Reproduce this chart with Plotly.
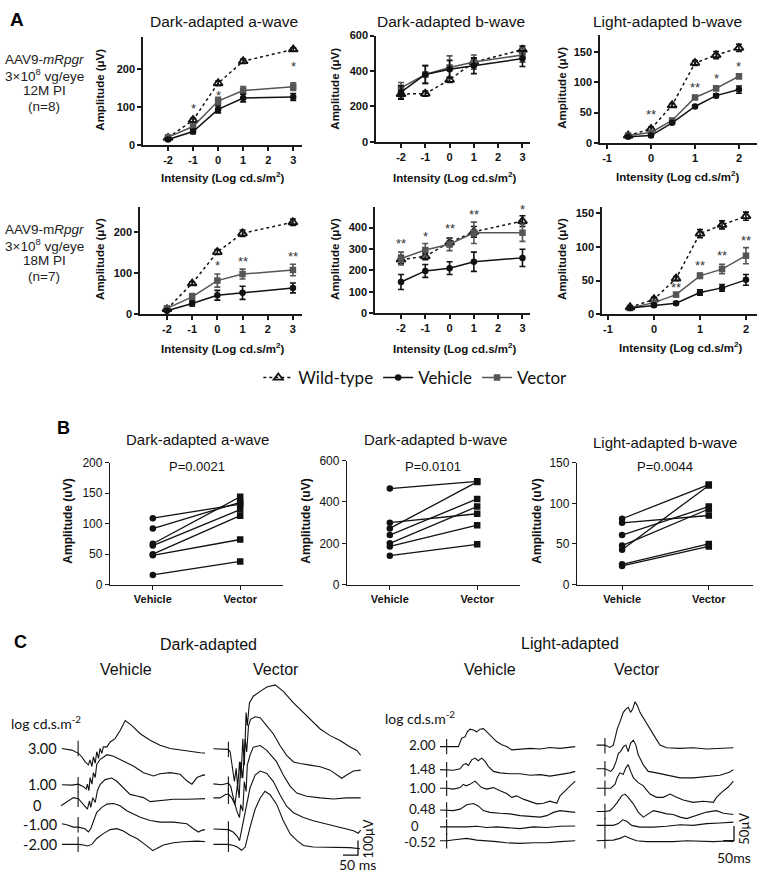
import plotly.graph_objects as go

W, H = 762, 879
FONT = "Liberation Sans, Arial, sans-serif"
NARROW = "Liberation Sans Narrow, Arial Narrow, Liberation Sans, sans-serif"
CAL = "Lato, Carlito, Calibri, sans-serif"
AX = "#1a1a1a"
VEC_C = "#555555"

# ---------------- Panel A data ----------------
DA_X = [-2, -1, 0, 1, 3]
LA_X = [-0.52, 0, 0.48, 1, 1.48, 2]
DA_TICKS = [-2, -1, 0, 1, 2, 3]
LA_TICKS = [-1, 0, 1, 2]

# 12M PI
A1_WT = [18, 65, 162, 220, 251];   A1_WT_E = [3, 5, 6, 6, 4]
A1_VEH = [14, 35, 93, 123, 126];   A1_VEH_E = [3, 6, 9, 10, 9]
A1_VEC = [20, 48, 115, 143, 153];  A1_VEC_E = [4, 8, 10, 10, 10]
A2_WT = [270, 272, 350, 450, 520]; A2_WT_E = [30, 15, 15, 20, 20]
A2_VEH = [280, 380, 410, 430, 470]; A2_VEH_E = [35, 50, 50, 45, 45]
A2_VEC = [305, 380, 420, 450, 490]; A2_VEC_E = [30, 50, 65, 40, 40]
A3_WT = [12, 23, 62, 132, 145, 157]; A3_WT_E = [2, 3, 3, 4, 6, 6]
A3_VEH = [10, 12, 33, 60, 78, 88];   A3_VEH_E = [2, 2, 2, 2, 3, 6]
A3_VEC = [12, 17, 37, 75, 90, 110];  A3_VEC_E = [2, 2, 3, 3, 4, 4]
# 18M PI
A4_WT = [12, 75, 152, 198, 225];   A4_WT_E = [3, 4, 6, 8, 8]
A4_VEH = [8, 26, 46, 52, 64];      A4_VEH_E = [3, 6, 12, 16, 12]
A4_VEC = [14, 42, 82, 98, 108];    A4_VEC_E = [4, 8, 16, 12, 14]
A5_WT = [250, 265, 330, 380, 430]; A5_WT_E = [20, 15, 20, 25, 25]
A5_VEH = [145, 197, 210, 240, 258]; A5_VEH_E = [35, 30, 30, 45, 40]
A5_VEC = [255, 295, 322, 375, 375]; A5_VEC_E = [30, 30, 30, 50, 40]
A6_WT = [10, 22, 53, 120, 133, 146]; A6_WT_E = [2, 3, 3, 6, 6, 6]
A6_VEH = [9, 13, 16, 32, 39, 51];    A6_VEH_E = [2, 2, 2, 4, 5, 8]
A6_VEC = [9, 17, 29, 57, 67, 87];    A6_VEC_E = [2, 2, 3, 4, 7, 12]

# significance stars (x, level in uV, text)
STARS_1 = [(-1, 95, "*"), (0, 131, "*"), (3, 205, "*")]
STARS_2 = []
STARS_3 = [(0, 47, "**"), (1, 92, "**"), (1.48, 107, "*"), (2, 127, "*")]
STARS_4 = [(0, 118, "*"), (1, 130, "**"), (3, 142, "**")]
STARS_5 = [(-2, 326, "**"), (-1, 358, "*"), (0, 395, "**"), (1, 462, "**"), (3, 485, "*")]
STARS_6 = [(0.48, 40, "**"), (1, 72, "**"), (1.48, 87, "**"), (2, 110, "**")]

# ---------------- Panel B data ----------------
B_CATS = ["Vehicle", "Vector"]
B1_VEH = [109, 92, 67, 64, 50, 48, 16]
B1_VEC = [132, 135, 144, 123, 113, 74, 38]
B2_VEH = [465, 300, 272, 240, 200, 185, 140]
B2_VEC = [500, 343, 497, 415, 378, 288, 195]
B3_VEH = [81, 76, 61, 48, 43, 25, 23]
B3_VEC = [123, 85, 96, 93, 122, 50, 47]
B_P = ["P=0.0021", "P=0.0101", "P=0.0044"]

# ---------------- Panel C data (time ms, amplitude uV) ----------------
DA_LABELS = ["3.00", "1.00", "0", "-1.00", "-2.00"]
LA_LABELS = ["2.00", "1.48", "1.00", "0.48", "0", "-0.52"]

DA_VEH_300 = [(-54,0),(-21,-11),(1,-33),(12,-56),(23,-89),(34,-111),(40,-78),(46,-122),(51,-56),(57,-100),(62,-22),(68,-67),(73,0),(79,-33),(84,11),(96,11),(107,44),(123,67),(140,122),(157,189),(179,155),(207,100),(240,56),(273,22),(307,0),(340,-11),(373,-22),(407,-29),(440,-33)]
DA_VEH_100 = [(-54,0),(-21,-2),(1,4),(18,-13),(27,-29),(31,4),(36,-40),(40,49),(46,4),(51,82),(57,49),(62,138),(73,171),(96,204),(118,193),(151,160),(184,127),(218,82),(251,60),(273,75),(307,82),(340,71),(362,27),(379,4),(396,49),(418,67),(429,64)]
DA_VEH_0 = [(-57,-44),(-38,-16),(-16,11),(1,4),(18,-33),(31,-67),(38,-11),(42,-56),(49,11),(57,-22),(64,56),(73,100),(90,133),(112,144),(129,122),(151,78),(173,33),(196,22),(218,11),(240,-16),(273,-11),(318,0),(362,0),(429,4)]
DA_VEH_M100 = [(-54,7),(-38,0),(-16,-16),(1,-16),(23,-27),(34,-49),(42,-27),(51,29),(62,84),(79,118),(96,140),(118,144),(140,129),(162,95),(184,73),(207,51),(240,29),(273,18),(318,18),(362,7),(384,-27),(401,-49),(412,-38),(423,-33)]
DA_VEH_M200 = [(-54,0),(-38,0),(-16,2),(1,0),(18,-4),(31,-11),(46,0),(62,40),(84,73),(107,100),(129,107),(151,91),(173,62),(196,40),(218,7),(234,-20),(249,-42),(262,-27),(284,-4),(318,11),(351,18),(396,22),(429,18)]

DA_VEC_300 = [(-50,4),(-28,4),(0,0),(6,-18),(13,-107),(20,-218),(26,-129),(31,-262),(37,-84),(42,-195),(48,71),(53,-107),(59,249),(63,160),(70,315),(83,360),(106,393),(128,422),(156,437),(183,393),(217,315),(250,249),(283,182),(306,138),(339,93),(372,60),(406,16),(428,-7),(441,-40)]
DA_VEC_100 = [(-50,2),(-22,-4),(0,7),(8,-16),(14,-71),(22,-138),(30,-4),(36,-93),(41,151),(48,40),(56,306),(61,218),(67,395),(74,440),(89,457),(106,451),(128,395),(150,340),(172,262),(194,195),(217,151),(239,140),(272,129),(306,118),(339,95),(361,67),(378,40),(394,62),(417,89),(441,95)]
DA_VEC_0 = [(-50,-11),(-28,-11),(-11,11),(0,16),(11,-11),(22,-56),(30,-111),(37,-144),(41,-56),(48,-100),(53,100),(59,33),(63,211),(72,278),(83,333),(106,344),(128,311),(161,233),(183,144),(206,67),(228,22),(261,0),(306,-11),(350,-18),(394,-11),(441,-11)]
DA_VEC_M100 = [(-50,0),(-22,0),(0,-4),(17,-22),(30,-51),(37,-78),(44,-11),(56,122),(72,278),(89,366),(106,393),(128,377),(150,322),(172,233),(194,155),(217,111),(250,78),(283,56),(328,33),(372,11),(417,-11),(433,-29),(441,-7)]
DA_VEC_M200 = [(-50,0),(-22,-2),(0,0),(17,-7),(30,-18),(44,-40),(56,-18),(72,115),(89,238),(106,315),(122,360),(139,337),(161,271),(183,160),(206,71),(228,27),(250,-7),(283,-18),(317,-18),(361,-18),(406,-22),(439,-29)]

LA_VEH_200 = [(-31,0),(0,0),(31,-2),(55,0),(70,28),(86,33),(97,50),(109,59),(125,56),(141,50),(156,59),(172,61),(188,50),(211,33),(234,17),(258,6),(281,0),(305,-11),(344,-8),(391,-6),(438,-8),(484,-3),(531,-6),(602,0)]
LA_VEH_148 = [(-31,0),(0,0),(31,-2),(63,3),(78,17),(91,20),(102,14),(117,33),(133,39),(148,30),(164,39),(180,28),(195,11),(219,-6),(250,-11),(297,-14),(344,-14),(391,-19),(438,-17),(484,-22),(531,-17),(578,-11),(602,-6)]
LA_VEH_100 = [(-31,0),(0,0),(31,-3),(63,2),(78,13),(91,8),(109,13),(133,24),(148,13),(164,2),(188,-3),(219,2),(250,-9),(281,-18),(305,-31),(328,-26),(359,-37),(391,-44),(422,-53),(453,-51),(484,-44),(516,-51),(531,-26),(563,-3),(602,24)]
LA_VEH_048 = [(-31,0),(0,0),(31,-2),(63,3),(94,18),(125,22),(148,14),(172,-2),(203,-8),(250,-11),(297,-13),(344,-19),(391,-22),(438,-24),(469,-19),(500,-8),(531,-2),(563,-4),(602,-8)]
LA_VEH_0 = [(-31,0),(0,0),(47,-2),(94,0),(141,2),(188,-2),(234,0),(281,-3),(344,-6),(406,0),(469,-2),(531,2),(602,3)]
LA_VEH_M052 = [(-31,0),(0,0),(47,4),(94,8),(141,2),(188,0),(234,-3),(281,-7),(344,-9),(406,-7),(469,-7),(531,-3),(602,0)]

LA_VEC_200 = [(-39,2),(0,2),(23,-6),(39,2),(47,24),(58,58),(70,80),(86,113),(98,124),(109,130),(120,113),(130,124),(141,149),(152,136),(164,113),(188,86),(211,58),(234,30),(258,2),(289,-7),(352,-9),(414,-7),(477,-11),(539,-9),(602,-7)]
LA_VEC_148 = [(-39,0),(0,0),(27,-9),(39,0),(52,24),(63,52),(73,58),(86,74),(98,80),(109,58),(120,86),(133,97),(145,80),(156,47),(180,13),(203,-9),(242,-14),(289,-22),(352,-31),(414,-31),(477,-26),(539,-22),(586,-11),(602,-3)]
LA_VEC_100 = [(-39,0),(0,0),(27,0),(47,13),(58,36),(70,52),(86,47),(98,69),(109,80),(120,58),(133,36),(156,19),(180,8),(211,-20),(242,-31),(273,-31),(305,-20),(336,-31),(367,-40),(414,-48),(461,-44),(508,-48),(523,-31),(547,-14),(578,4),(602,24)]
LA_VEC_048 = [(-39,0),(0,0),(23,3),(39,14),(58,31),(78,53),(94,59),(109,48),(133,26),(156,-2),(180,-19),(203,-8),(227,3),(258,-2),(289,-8),(320,-10),(352,-19),(383,-24),(430,-13),(477,-2),(523,3),(555,-6),(602,-10)]
LA_VEC_0 = [(-39,0),(0,0),(39,0),(63,6),(83,19),(102,14),(125,0),(164,-6),(227,-6),(289,-3),(352,2),(414,0),(477,6),(539,8),(602,11)]
LA_VEC_M052 = [(-39,0),(0,0),(39,2),(70,8),(94,16),(117,8),(148,0),(195,-3),(258,-3),(320,-3),(383,0),(445,-1),(508,-3),(570,-1),(602,-3)]

# stacking offsets (uV) for display
DA_VEH_OFF = [650, 404, 306, 133, 0]
DA_VEC_OFF = [644, 408, 326, 104, 0]
LA_VEH_OFF = [319, 241, 178, 104, 47, 0]
LA_VEC_OFF = [322, 244, 178, 99, 52, 0]
DA_SCALE = (50, 100)   # ms, uV
LA_SCALE = (50, 50)

# ---------------- figure ----------------
fig = go.Figure()
layout = {}
annotations = []


def names(i):
    s = "" if i == 1 else str(i)
    return "xaxis" + s, "yaxis" + s, "x" + s, "y" + s


def add_axes(i, xpx, ypx, xr, yr, visible=True, xt=None, xtt=None, yt=None, tfont=None, xtfont=None, lw=1.6):
    xn, yn, xref, yref = names(i)
    common = dict(showgrid=False, zeroline=False, fixedrange=True)
    if not visible:
        layout[xn] = dict(domain=[xpx[0] / W, xpx[1] / W], range=xr, anchor=yref, visible=False, **common)
        layout[yn] = dict(domain=[1 - ypx[1] / H, 1 - ypx[0] / H], range=yr, anchor=xref, visible=False, **common)
        return
    st = dict(showline=True, linecolor=AX, linewidth=lw, ticks="outside", ticklen=4,
              tickwidth=lw, tickcolor=AX)
    layout[xn] = dict(domain=[xpx[0] / W, xpx[1] / W], range=xr, anchor=yref,
                      tickvals=xt, ticktext=xtt, tickfont=xtfont or tfont, **st, **common)
    layout[yn] = dict(domain=[1 - ypx[1] / H, 1 - ypx[0] / H], range=yr, anchor=xref,
                      tickvals=yt, tickfont=tfont, **st, **common)


def txt(text, x, y, size, family=FONT, xanchor="center", yanchor="middle", bold=False,
        angle=0, color="#111", xref="paper", yref="paper"):
    d = dict(text=text, showarrow=False, xanchor=xanchor, yanchor=yanchor, textangle=angle,
             font=dict(family=family, size=size, color=color, weight="bold" if bold else "normal"))
    if xref == "paper":
        d.update(x=x / W, y=1 - y / H, xref="paper", yref="paper")
    else:
        d.update(x=x, y=y, xref=xref, yref=yref)
    annotations.append(d)


BOLDT = dict(family=FONT, size=11, color="#111", weight="bold")

# Panel A axes
A_AXES = [
    (1, [143, 302], [30, 140], [-3, 3.35], [0, 285], DA_TICKS, [0, 100, 200]),
    (2, [376, 530], [29, 137], [-3.03, 3.31], [0, 600], DA_TICKS, [0, 200, 400, 600]),
    (3, [600, 757], [28, 138], [-1.16, 2.41], [0, 179], LA_TICKS, [0, 50, 100, 150]),
    (4, [140, 302], [203, 312], [-3.07, 3.36], [0, 263], DA_TICKS, [0, 100, 200]),
    (5, [375, 530], [203, 311], [-3.07, 3.31], [0, 497], DA_TICKS, [0, 100, 200, 300, 400]),
    (6, [602, 757], [203, 312], [-1.13, 2.24], [0, 160], LA_TICKS, [0, 50, 100, 150]),
]
for i, xp, yp, xr, yr, xt, yt in A_AXES:
    add_axes(i, xp, yp, xr, yr, xt=xt, xtt=[str(v) for v in xt], yt=yt, tfont=BOLDT)

A_SERIES = [
    (1, DA_X, A1_WT, A1_WT_E, A1_VEH, A1_VEH_E, A1_VEC, A1_VEC_E, STARS_1),
    (2, DA_X, A2_WT, A2_WT_E, A2_VEH, A2_VEH_E, A2_VEC, A2_VEC_E, STARS_2),
    (3, LA_X, A3_WT, A3_WT_E, A3_VEH, A3_VEH_E, A3_VEC, A3_VEC_E, STARS_3),
    (4, DA_X, A4_WT, A4_WT_E, A4_VEH, A4_VEH_E, A4_VEC, A4_VEC_E, STARS_4),
    (5, DA_X, A5_WT, A5_WT_E, A5_VEH, A5_VEH_E, A5_VEC, A5_VEC_E, STARS_5),
    (6, LA_X, A6_WT, A6_WT_E, A6_VEH, A6_VEH_E, A6_VEC, A6_VEC_E, STARS_6),
]
for i, xs, wt, wte, veh, vehe, vec, vece, stars in A_SERIES:
    _, _, xr, yr = names(i)
    first = i == 1
    fig.add_trace(go.Scatter(x=xs, y=wt, xaxis=xr, yaxis=yr, name="Wild-type", mode="lines+markers",
                             showlegend=first, legendrank=1,
                             line=dict(color="#111", width=1.5, dash="3px,3px"),
                             marker=dict(symbol="triangle-up-open", size=8, color="#111", line=dict(width=1.8)),
                             error_y=dict(type="data", array=wte, width=3, thickness=1.6, color="#111")))
    fig.add_trace(go.Scatter(x=xs, y=vec, xaxis=xr, yaxis=yr, name="Vector", mode="lines+markers",
                             showlegend=first, legendrank=3,
                             line=dict(color=VEC_C, width=1.5),
                             marker=dict(symbol="square", size=6.5, color=VEC_C),
                             error_y=dict(type="data", array=vece, width=3, thickness=1.6, color=VEC_C)))
    fig.add_trace(go.Scatter(x=xs, y=veh, xaxis=xr, yaxis=yr, name="Vehicle", mode="lines+markers",
                             showlegend=first, legendrank=2,
                             line=dict(color="#111", width=1.5),
                             marker=dict(symbol="circle", size=6.5, color="#111"),
                             error_y=dict(type="data", array=vehe, width=3, thickness=1.6, color="#111")))
    for sx, sy, st in stars:
        txt(st, sx, sy, 13, color="#333", xref=xr, yref=yr)

# Panel A text
txt("A", 8, 13, 19, bold=True, xanchor="left", color="#000")
for cx, t in [(224, "Dark-adapted a-wave"), (451, "Dark-adapted b-wave"), (667, "Light-adapted b-wave")]:
    txt(t, cx, 15, 15.5, color="#111")
for cx, cy in [(100, 84), (335, 83), (562, 82), (100, 256), (335, 256), (562, 256)]:
    txt("Amplitude (μV)", cx, cy, 11.5, bold=True, angle=-90)
for cx, cy in [(223, 173), (455, 173), (678, 172), (223, 347), (455, 347), (681, 345)]:
    txt("Intensity (Log cd.s/m<sup>2</sup>)", cx, cy, 11.5, bold=True)
ROW1 = ["AAV9-<i>mRpgr</i>", "3×10<sup>8</sup> vg/eye", "12M PI", "(n=8)"]
ROW2 = ["AAV9-m<i>Rpgr</i>", "3×10<sup>8</sup> vg/eye", "18M PI", "(n=7)"]
for k, t in enumerate(ROW1):
    txt(t, 44, 53 + 16 * k, 13.5, color="#222")
for k, t in enumerate(ROW2):
    txt(t, 44, 226 + 16 * k, 13.5, color="#222")

# Panel B
NT = dict(family=NARROW, size=12, color="#111")
B_AXES = [
    (7, [110, 283], [463, 587], [-0.49, 1.49], [0, 200], [0, 50, 100, 150, 200], B1_VEH, B1_VEC),
    (8, [347, 520], [461, 587], [-0.49, 1.49], [0, 600], [0, 200, 400, 600], B2_VEH, B2_VEC),
    (9, [577, 753], [463, 587], [-0.52, 1.51], [0, 150], [0, 50, 100, 150], B3_VEH, B3_VEC),
]
for i, xp, yp, xr_, yr_, yt, veh, vec in B_AXES:
    add_axes(i, xp, yp, xr_, yr_, xt=[0, 1], xtt=B_CATS, yt=yt, tfont=NT,
             xtfont=dict(family=FONT, size=11, color="#111", weight="bold"), lw=1.3)
    _, _, xr, yr = names(i)
    for a, b in zip(veh, vec):
        fig.add_trace(go.Scatter(x=[0, 1], y=[a, b], xaxis=xr, yaxis=yr, mode="lines+markers",
                                 showlegend=False, line=dict(color="#111", width=1.3),
                                 marker=dict(symbol=["circle", "square"], size=6.5, color="#111")))

txt("B", 63, 428, 18, family=NARROW, bold=True, color="#000")
for cx, cy, t in [(197, 440, "Dark-adapted a-wave"), (435, 440, "Dark-adapted b-wave"), (665, 443, "Light-adapted b-wave")]:
    txt(t, cx, cy, 15, family=NARROW, color="#111")
for cx, t in zip([197, 433, 665], B_P):
    txt(t, cx, 467, 13, family=NARROW, color="#111")
for cx in [68, 306, 537]:
    txt("Amplitude (uV)", cx, 523, 12, bold=True, angle=-90)

# Panel C
C_AXES = [
    (10, [55, 215], [680, 870], [-77, 456], [-127, 1140]),
    (11, [205, 370], [680, 870], [-78, 472], [-127, 1140]),
    (12, [430, 585], [700, 870], [-78, 648], [-76, 491]),
    (13, [590, 740], [700, 870], [-70, 633], [-76, 491]),
]
for i, xp, yp, xr_, yr_ in C_AXES:
    add_axes(i, xp, yp, xr_, yr_, visible=False)

C_GROUPS = [
    (10, [DA_VEH_300, DA_VEH_100, DA_VEH_0, DA_VEH_M100, DA_VEH_M200], DA_VEH_OFF),
    (11, [DA_VEC_300, DA_VEC_100, DA_VEC_0, DA_VEC_M100, DA_VEC_M200], DA_VEC_OFF),
    (12, [LA_VEH_200, LA_VEH_148, LA_VEH_100, LA_VEH_048, LA_VEH_0, LA_VEH_M052], LA_VEH_OFF),
    (13, [LA_VEC_200, LA_VEC_148, LA_VEC_100, LA_VEC_048, LA_VEC_0, LA_VEC_M052], LA_VEC_OFF),
]
for i, traces, offs in C_GROUPS:
    _, _, xr, yr = names(i)
    for tr, off in zip(traces, offs):
        fig.add_trace(go.Scatter(x=[p[0] for p in tr], y=[p[1] + off for p in tr], xaxis=xr, yaxis=yr,
                                 mode="lines", showlegend=False, line=dict(color="#111", width=1.1)))
    fig.add_trace(go.Scatter(x=[0] * len(offs), y=offs, xaxis=xr, yaxis=yr, mode="markers", showlegend=False,
                             marker=dict(symbol="line-ns", size=11, line=dict(width=1.1, color="#111"))))


def scale_bar(i, t_end, v0, scale):
    _, _, xr, yr = names(i)
    dt, dv = scale
    fig.add_trace(go.Scatter(x=[t_end - dt, t_end, t_end], y=[v0, v0, v0 + dv], xaxis=xr, yaxis=yr,
                             mode="lines", showlegend=False, line=dict(color="#111", width=1.3)))


scale_bar(11, 432, -73, DA_SCALE)
scale_bar(13, 605, 0, LA_SCALE)

txt("C", 12, 645, 18, bold=True, xanchor="left", color="#000")
txt("Dark-adapted", 208, 648, 16)
txt("Vehicle", 126, 673, 16)
txt("Vector", 276, 673, 16)
txt("Light-adapted", 570, 647, 16)
txt("Vehicle", 490, 673, 16)
txt("Vector", 637, 673, 16)
txt("log cd.s.m<sup>-2</sup>", 9, 727, 14, family=CAL, xanchor="left")
txt("log cd.s.m<sup>-2</sup>", 383, 722, 14, family=CAL, xanchor="left")
for lab, yy in zip(DA_LABELS, [753, 790, 811, 831, 851]):
    if lab == "0":
        txt(lab, 31, yy, 14.5, family=CAL, xanchor="left")
    else:
        txt(lab, 59, yy, 14.5, family=CAL, xanchor="right")
for lab, yy in zip(LA_LABELS, [750, 774, 794, 815, 832, 849]):
    if lab == "0":
        txt(lab, 409, yy, 13, family=CAL, xanchor="left")
    else:
        txt(lab, 438, yy, 13.5, family=CAL, xanchor="right")
txt("100μV", 368, 846, 13, family=CAL, angle=-90)
txt("50 ms", 357, 871, 14, family=CAL)
txt("50μV", 744, 835, 13, family=CAL, angle=-90)
txt("50ms", 734, 864, 14, family=CAL)

fig.update_layout(
    width=W, height=H, autosize=False,
    margin=dict(l=0, r=0, t=0, b=0),
    paper_bgcolor="white", plot_bgcolor="white",
    showlegend=True,
    legend=dict(orientation="h", x=0.545, xanchor="center", y=1 - 377 / H, yanchor="middle",
                font=dict(family=CAL, size=17, color="#111"), itemwidth=30, bgcolor="rgba(0,0,0,0)",
                traceorder="normal"),
    annotations=annotations,
    **layout,
)

fig.write_html("out.html", config={"displayModeBar": False},
               post_script="document.body.style.margin='0';document.body.style.overflow='hidden';")
